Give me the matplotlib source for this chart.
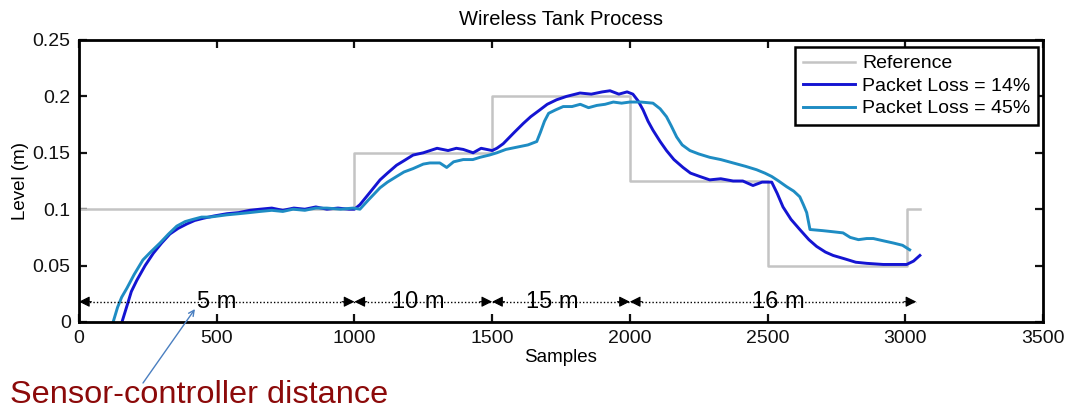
import matplotlib
matplotlib.use("Agg")
import matplotlib.pyplot as plt

plt.rcParams['font.family'] = ['Liberation Sans', 'DejaVu Sans']

# Reference set-point (step)
ref_samples = [0, 0, 1000, 1500, 2000, 2500, 3005, 3055]
ref_levels = [0.0, 0.1, 0.15, 0.2, 0.125, 0.05, 0.1, 0.1]

# Packet loss = 14 %
pl14_samples = [156, 175, 190, 210, 240, 270, 300, 330, 360, 392, 420, 452, 490, 537, 580,
                620, 657, 700, 740, 780, 820, 860, 900, 940, 980, 1000, 1020, 1050, 1093,
                1120, 1153, 1180, 1213, 1250, 1300, 1340, 1370, 1395, 1431, 1460, 1500,
                1517, 1540, 1580, 1613, 1640, 1673, 1700, 1734, 1770, 1819, 1860, 1900,
                1928, 1960, 1990, 2011, 2030, 2048, 2066, 2084, 2110, 2133, 2160, 2193,
                2220, 2254, 2290, 2330, 2375, 2410, 2447, 2480, 2515, 2535, 2556, 2585,
                2617, 2650, 2678, 2710, 2738, 2780, 2820, 2860, 2920, 2980, 3005, 3030, 3053]
pl14_levels = [0.0, 0.015, 0.027, 0.037, 0.050, 0.061, 0.070, 0.078, 0.083, 0.087, 0.090,
               0.092, 0.094, 0.096, 0.097, 0.099, 0.100, 0.101, 0.099, 0.101, 0.100, 0.102,
               0.100, 0.101, 0.100, 0.100, 0.104, 0.113, 0.126, 0.132, 0.139, 0.143, 0.148,
               0.150, 0.154, 0.152, 0.154, 0.153, 0.150, 0.154, 0.152, 0.154, 0.158, 0.168,
               0.176, 0.182, 0.188, 0.193, 0.197, 0.200, 0.203, 0.202, 0.204, 0.205, 0.202,
               0.204, 0.202, 0.196, 0.188, 0.178, 0.170, 0.160, 0.152, 0.144, 0.137, 0.132,
               0.129, 0.126, 0.127, 0.125, 0.125, 0.121, 0.124, 0.124, 0.114, 0.102, 0.091,
               0.082, 0.073, 0.067, 0.062, 0.059, 0.056, 0.053, 0.052, 0.051, 0.051, 0.051,
               0.054, 0.059]

# Packet loss = 45 %
pl45_samples = [124, 140, 155, 174, 200, 232, 260, 294, 325, 355, 385, 414, 445, 475, 537,
                580, 620, 657, 700, 740, 777, 820, 860, 900, 950, 995, 1020, 1050, 1093,
                1120, 1153, 1180, 1213, 1250, 1274, 1310, 1335, 1360, 1395, 1430, 1456,
                1490, 1517, 1550, 1590, 1630, 1662, 1675, 1690, 1705, 1730, 1758, 1790,
                1820, 1850, 1880, 1910, 1940, 1970, 2000, 2040, 2084, 2110, 2133, 2150,
                2170, 2190, 2218, 2250, 2290, 2330, 2375, 2420, 2460, 2490, 2515, 2540,
                2569, 2595, 2617, 2630, 2642, 2654, 2700, 2738, 2774, 2800, 2830, 2860,
                2884, 2920, 2957, 2990, 3016]
pl45_levels = [0.0, 0.013, 0.022, 0.030, 0.042, 0.055, 0.062, 0.070, 0.078, 0.085, 0.089,
               0.091, 0.093, 0.093, 0.095, 0.096, 0.097, 0.098, 0.099, 0.098, 0.100, 0.099,
               0.101, 0.101, 0.100, 0.101, 0.100, 0.108, 0.119, 0.124, 0.129, 0.133, 0.136,
               0.140, 0.141, 0.141, 0.137, 0.142, 0.144, 0.144, 0.146, 0.148, 0.150, 0.153,
               0.155, 0.157, 0.160, 0.168, 0.178, 0.185, 0.188, 0.191, 0.191, 0.193, 0.190,
               0.192, 0.193, 0.195, 0.194, 0.195, 0.195, 0.194, 0.189, 0.182, 0.174, 0.164,
               0.157, 0.152, 0.149, 0.146, 0.144, 0.141, 0.138, 0.135, 0.132, 0.129, 0.125,
               0.120, 0.116, 0.111, 0.104, 0.097, 0.082, 0.081, 0.080, 0.079, 0.075, 0.073,
               0.074, 0.074, 0.072, 0.070, 0.068, 0.064]

# Sensor-controller distance segments
dist_bounds = [0, 1000, 1500, 2000, 3040]
dist_labels = ['5 m', '10 m', '15 m', '16 m']
dist_label_pos = [500, 1230, 1720, 2540]
dist_level = 0.018

x_ticks = [0, 500, 1000, 1500, 2000, 2500, 3000, 3500]
y_ticks = [0, 0.05, 0.1, 0.15, 0.2, 0.25]
y_tick_labels = ['0', '0.05', '0.1', '0.15', '0.2', '0.25']

fig = plt.figure(figsize=(10.73, 4.12), dpi=100)
ax = fig.add_axes([79 / 1073, 90 / 412, 964 / 1073, 282 / 412])

ax.plot(ref_samples, ref_levels, drawstyle='steps-post', color='#c4c4c4', lw=1.8,
        label='Reference')
ax.plot(pl14_samples, pl14_levels, color='#1414d2', lw=2.1, label='Packet Loss = 14%')
ax.plot(pl45_samples, pl45_levels, color='#1e8cc3', lw=2.1, label='Packet Loss = 45%')

# distance dimension lines
ax.plot([dist_bounds[0], dist_bounds[-1]], [dist_level, dist_level], color='k', lw=1,
        linestyle=(0, (1, 1.5)))
for i in range(len(dist_bounds) - 1):
    a, b = dist_bounds[i], dist_bounds[i + 1]
    for tip, tail in ((a, a + 45), (b, b - 45)):
        ax.annotate('', xy=(tip, dist_level), xytext=(tail, dist_level),
                    arrowprops=dict(arrowstyle='-|>', color='k', lw=0.8,
                                    mutation_scale=16, shrinkA=0, shrinkB=0))
for lab, xp in zip(dist_labels, dist_label_pos):
    ax.text(xp, dist_level, lab, ha='center', va='center', fontsize=17)

ax.set_xlim(0, 3500)
ax.set_ylim(0, 0.25)
ax.set_xticks(x_ticks)
ax.set_yticks(y_ticks)
ax.set_yticklabels(y_tick_labels)
ax.tick_params(direction='in', length=6, width=1.6, top=True, right=True,
               labelsize=14, pad=6, colors='#111111')
for sp in ax.spines.values():
    sp.set_linewidth(2.0)

ax.set_title('Wireless Tank Process', fontsize=14.5, pad=11)
ax.set_xlabel('Samples', fontsize=13.5)
ax.xaxis.set_label_coords(0.5, -0.095)
ax.set_ylabel('Level (m)', fontsize=13.5)
ax.yaxis.set_label_coords(-0.052, 0.5)

leg = ax.legend(loc='upper right', bbox_to_anchor=(0.995, 0.975), borderaxespad=0,
                fontsize=14, frameon=True, fancybox=False, framealpha=1,
                handlelength=2.7, handletextpad=0.35, labelspacing=0.25,
                borderpad=0.4)
leg.get_frame().set_edgecolor('k')
leg.get_frame().set_linewidth(1.8)

# annotation
fig.text(10 / 1073, (412 - 403) / 412, 'Sensor-controller distance', color='#8c0a0a',
         fontsize=23.4, ha='left', va='baseline')
ax.annotate('', xy=(421, 0.0115), xycoords='data',
            xytext=(143 / 1073, 1 - 383 / 412), textcoords='figure fraction',
            arrowprops=dict(arrowstyle='->', color='#4a7fc0', lw=1.0,
                            shrinkA=0, shrinkB=0), annotation_clip=False)

fig.savefig('out.png', dpi=100)
